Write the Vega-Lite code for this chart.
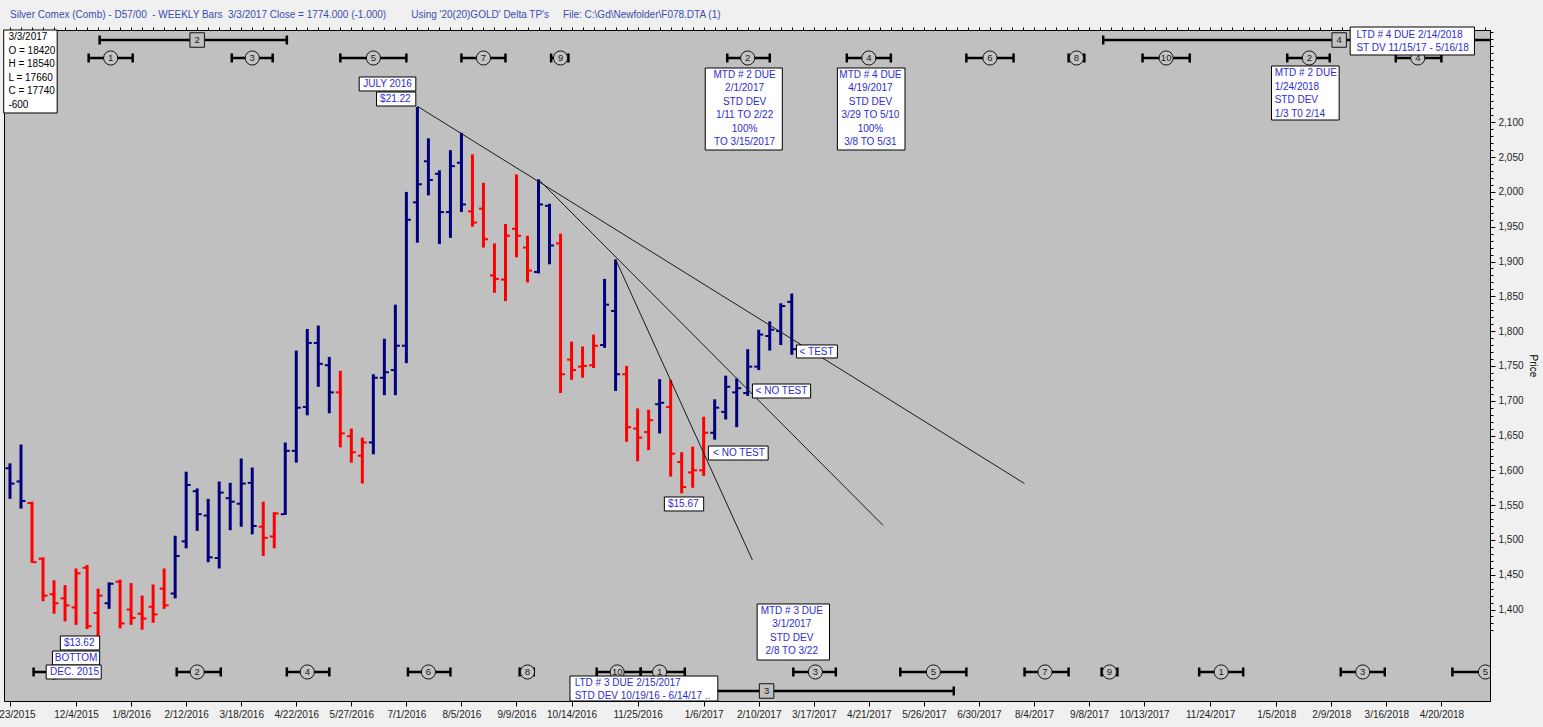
{
"$schema": "https://vega.github.io/schema/vega-lite/v6.json",
"width": 1486,
"height": 671,
"autosize": {"type": "none"},
"padding": {"left": 4, "top": 30, "right": 53, "bottom": 26},
"background": "#f0f0f0",
"title": {"text": "Silver Comex (Comb) - D57/00 \u00a0- WEEKLY Bars \u00a03/3/2017 Close = 1774.000 (-1.000)\u00a0\u00a0\u00a0\u00a0\u00a0\u00a0\u00a0\u00a0\u00a0Using '20(20)GOLD' Delta TP's\u00a0\u00a0\u00a0\u00a0\u00a0File: C:\\Gd\\Newfolder\\F078.DTA (1)", "anchor": "start", "frame": "group", "offset": -3, "dx": 6, "fontSize": 10, "fontWeight": "normal", "color": "#3a4cb0", "baseline": "bottom"},
"config": {"font": "Liberation Sans", "view": {"fill": "#c0c0c0", "stroke": "#000000", "strokeWidth": 1}},
"resolve": {"axis": {"x": "independent", "y": "independent"}},
"datasets": {
"bars": [
{"d":"2015-10-23","o":1603,"h":1610,"l":1559,"c":1581,"t":"b"},
{"d":"2015-10-30","o":1584,"h":1637,"l":1545,"c":1556,"t":"b"},
{"d":"2015-11-06","o":1553,"h":1555,"l":1467,"c":1468,"t":"r"},
{"d":"2015-11-13","o":1473,"h":1475,"l":1412,"c":1420,"t":"r"},
{"d":"2015-11-20","o":1422,"h":1442,"l":1394,"c":1409,"t":"r"},
{"d":"2015-11-27","o":1416,"h":1435,"l":1383,"c":1406,"t":"r"},
{"d":"2015-12-04","o":1403,"h":1459,"l":1378,"c":1452,"t":"r"},
{"d":"2015-12-11","o":1460,"h":1464,"l":1372,"c":1376,"t":"r"},
{"d":"2015-12-18","o":1395,"h":1430,"l":1362,"c":1420,"t":"r"},
{"d":"2015-12-25","o":1409,"h":1439,"l":1401,"c":1437,"t":"b"},
{"d":"2016-01-01","o":1440,"h":1443,"l":1373,"c":1380,"t":"r"},
{"d":"2016-01-08","o":1400,"h":1438,"l":1378,"c":1388,"t":"r"},
{"d":"2016-01-15","o":1394,"h":1420,"l":1371,"c":1387,"t":"r"},
{"d":"2016-01-22","o":1404,"h":1436,"l":1381,"c":1393,"t":"r"},
{"d":"2016-01-29","o":1430,"h":1459,"l":1401,"c":1406,"t":"r"},
{"d":"2016-02-05","o":1423,"h":1506,"l":1416,"c":1477,"t":"b"},
{"d":"2016-02-12","o":1498,"h":1598,"l":1488,"c":1579,"t":"b"},
{"d":"2016-02-19","o":1570,"h":1574,"l":1513,"c":1537,"t":"b"},
{"d":"2016-02-26","o":1535,"h":1559,"l":1468,"c":1475,"t":"b"},
{"d":"2016-03-04","o":1474,"h":1584,"l":1459,"c":1568,"t":"b"},
{"d":"2016-03-11","o":1560,"h":1582,"l":1514,"c":1555,"t":"b"},
{"d":"2016-03-18","o":1552,"h":1617,"l":1519,"c":1581,"t":"b"},
{"d":"2016-03-25","o":1582,"h":1604,"l":1508,"c":1520,"t":"b"},
{"d":"2016-04-01","o":1519,"h":1555,"l":1477,"c":1503,"t":"r"},
{"d":"2016-04-08","o":1505,"h":1540,"l":1488,"c":1538,"t":"r"},
{"d":"2016-04-15","o":1537,"h":1640,"l":1536,"c":1628,"t":"b"},
{"d":"2016-04-22","o":1628,"h":1772,"l":1611,"c":1690,"t":"b"},
{"d":"2016-04-29","o":1691,"h":1803,"l":1679,"c":1783,"t":"b"},
{"d":"2016-05-06","o":1783,"h":1808,"l":1720,"c":1753,"t":"b"},
{"d":"2016-05-13","o":1751,"h":1763,"l":1682,"c":1712,"t":"b"},
{"d":"2016-05-20","o":1712,"h":1743,"l":1633,"c":1653,"t":"r"},
{"d":"2016-05-27","o":1649,"h":1660,"l":1611,"c":1626,"t":"r"},
{"d":"2016-06-03","o":1621,"h":1647,"l":1581,"c":1640,"t":"r"},
{"d":"2016-06-10","o":1640,"h":1738,"l":1623,"c":1733,"t":"b"},
{"d":"2016-06-17","o":1733,"h":1789,"l":1708,"c":1741,"t":"b"},
{"d":"2016-06-24","o":1744,"h":1838,"l":1708,"c":1779,"t":"b"},
{"d":"2016-07-01","o":1779,"h":2000,"l":1754,"c":1960,"t":"b"},
{"d":"2016-07-08","o":1985,"h":2122,"l":1927,"c":2011,"t":"b"},
{"d":"2016-07-15","o":2044,"h":2077,"l":1995,"c":2017,"t":"b"},
{"d":"2016-07-22","o":2026,"h":2031,"l":1925,"c":1971,"t":"b"},
{"d":"2016-07-29","o":1971,"h":2060,"l":1934,"c":2037,"t":"b"},
{"d":"2016-08-05","o":2042,"h":2085,"l":1971,"c":1982,"t":"b"},
{"d":"2016-08-12","o":1972,"h":2054,"l":1950,"c":1956,"t":"r"},
{"d":"2016-08-19","o":1976,"h":2013,"l":1920,"c":1932,"t":"r"},
{"d":"2016-08-26","o":1880,"h":1926,"l":1855,"c":1875,"t":"r"},
{"d":"2016-09-02","o":1874,"h":1954,"l":1843,"c":1937,"t":"r"},
{"d":"2016-09-09","o":1947,"h":2025,"l":1906,"c":1937,"t":"r"},
{"d":"2016-09-16","o":1920,"h":1937,"l":1870,"c":1887,"t":"r"},
{"d":"2016-09-23","o":1885,"h":2018,"l":1883,"c":1982,"t":"b"},
{"d":"2016-09-30","o":1980,"h":1983,"l":1896,"c":1923,"t":"b"},
{"d":"2016-10-07","o":1926,"h":1940,"l":1711,"c":1738,"t":"r"},
{"d":"2016-10-14","o":1759,"h":1785,"l":1730,"c":1744,"t":"r"},
{"d":"2016-10-21","o":1749,"h":1778,"l":1733,"c":1750,"t":"r"},
{"d":"2016-10-28","o":1751,"h":1795,"l":1747,"c":1779,"t":"r"},
{"d":"2016-11-04","o":1780,"h":1875,"l":1776,"c":1838,"t":"b"},
{"d":"2016-11-11","o":1829,"h":1903,"l":1714,"c":1738,"t":"b"},
{"d":"2016-11-18","o":1738,"h":1750,"l":1641,"c":1662,"t":"r"},
{"d":"2016-11-25","o":1660,"h":1689,"l":1613,"c":1647,"t":"r"},
{"d":"2016-12-02","o":1655,"h":1687,"l":1629,"c":1672,"t":"r"},
{"d":"2016-12-09","o":1695,"h":1731,"l":1653,"c":1697,"t":"b"},
{"d":"2016-12-16","o":1691,"h":1730,"l":1591,"c":1624,"t":"r"},
{"d":"2016-12-23","o":1612,"h":1626,"l":1567,"c":1576,"t":"r"},
{"d":"2016-12-30","o":1597,"h":1634,"l":1575,"c":1600,"t":"r"},
{"d":"2017-01-06","o":1600,"h":1677,"l":1592,"c":1654,"t":"r"},
{"d":"2017-01-13","o":1654,"h":1702,"l":1644,"c":1690,"t":"b"},
{"d":"2017-01-20","o":1684,"h":1736,"l":1673,"c":1720,"t":"b"},
{"d":"2017-01-27","o":1712,"h":1732,"l":1662,"c":1718,"t":"b"},
{"d":"2017-02-03","o":1711,"h":1774,"l":1707,"c":1749,"t":"b"},
{"d":"2017-02-10","o":1749,"h":1802,"l":1744,"c":1795,"t":"b"},
{"d":"2017-02-17","o":1793,"h":1814,"l":1772,"c":1802,"t":"b"},
{"d":"2017-02-24","o":1800,"h":1840,"l":1780,"c":1836,"t":"b"},
{"d":"2017-03-03","o":1842,"h":1854,"l":1766,"c":1774,"t":"b"}
],
"trend": [
{"s":"2016-07-08","e":"2017-07-29","p1":2123,"p2":1581},
{"s":"2016-09-23","e":"2017-04-30","p1":2018,"p2":1521},
{"s":"2016-11-11","e":"2017-02-06","p1":1903,"p2":1471}
],
"cyc": [
{"k":"c","n":"1","s":"2015-12-12","e":"2016-01-09","c":"2015-12-26","p":2192.4},
{"k":"c","n":"3","s":"2016-03-12","e":"2016-04-07","c":"2016-03-25","p":2192.4},
{"k":"c","n":"5","s":"2016-05-20","e":"2016-07-01","c":"2016-06-10","p":2192.4},
{"k":"c","n":"7","s":"2016-08-05","e":"2016-09-02","c":"2016-08-19","p":2192.4},
{"k":"c","n":"9","s":"2016-10-01","e":"2016-10-12","c":"2016-10-07","p":2192.4},
{"k":"c","n":"2","s":"2017-01-21","e":"2017-02-17","c":"2017-02-03","p":2192.4},
{"k":"c","n":"4","s":"2017-04-07","e":"2017-05-05","c":"2017-04-21","p":2192.4},
{"k":"c","n":"6","s":"2017-06-22","e":"2017-07-22","c":"2017-07-07","p":2192.4},
{"k":"c","n":"8","s":"2017-08-26","e":"2017-09-05","c":"2017-08-31","p":2192.4},
{"k":"c","n":"10","s":"2017-10-12","e":"2017-11-11","c":"2017-10-27","p":2192.4},
{"k":"c","n":"2","s":"2018-01-12","e":"2018-02-08","c":"2018-01-26","p":2192.4},
{"k":"c","n":"4","s":"2018-03-22","e":"2018-04-20","c":"2018-04-05","p":2192.4},
{"k":"c","n":"","s":"2015-11-07","e":"2015-12-05","c":"2015-11-20","p":1310.3},
{"k":"c","n":"2","s":"2016-02-06","e":"2016-03-05","c":"2016-02-19","p":1310.3},
{"k":"c","n":"4","s":"2016-04-16","e":"2016-05-13","c":"2016-04-29","p":1310.3},
{"k":"c","n":"6","s":"2016-07-02","e":"2016-07-29","c":"2016-07-15","p":1310.3},
{"k":"c","n":"8","s":"2016-09-11","e":"2016-09-20","c":"2016-09-16","p":1310.3},
{"k":"c","n":"10","s":"2016-10-30","e":"2016-11-27","c":"2016-11-12","p":1310.3},
{"k":"c","n":"1","s":"2016-11-27","e":"2016-12-25","c":"2016-12-09","p":1310.3},
{"k":"c","n":"3","s":"2017-03-04","e":"2017-03-31","c":"2017-03-18","p":1310.3},
{"k":"c","n":"5","s":"2017-05-11","e":"2017-06-22","c":"2017-06-01","p":1310.3},
{"k":"c","n":"7","s":"2017-07-29","e":"2017-08-26","c":"2017-08-11","p":1310.3},
{"k":"c","n":"9","s":"2017-09-16","e":"2017-09-26","c":"2017-09-21","p":1310.3},
{"k":"c","n":"1","s":"2017-11-17","e":"2017-12-15","c":"2017-12-01","p":1310.3},
{"k":"c","n":"3","s":"2018-02-15","e":"2018-03-15","c":"2018-03-01","p":1310.3},
{"k":"c","n":"5","s":"2018-04-27","e":"2018-06-08","c":"2018-05-18","p":1310.3},
{"k":"L","n":"2","s":"2015-12-19","e":"2016-04-16","c":"2016-02-19","p":2218.2},
{"k":"L","n":"4","s":"2017-09-17","e":"2018-07-01","c":"2018-02-14","p":2218.2},
{"k":"L","n":"3","s":"2016-10-19","e":"2017-06-14","c":"2017-02-15","p":1283.0}
],
"boxes": [
{"x1":"2015-10-19","x2":"2015-11-22","y1":2232.6,"y2":2113.4},
{"x1":"2016-06-01","x2":"2016-07-07","y1":2165.1,"y2":2145.0},
{"x1":"2016-06-12","x2":"2016-07-07","y1":2143.5,"y2":2123.4},
{"x1":"2017-01-07","x2":"2017-02-25","y1":2178.0,"y2":2060.2},
{"x1":"2017-04-01","x2":"2017-05-14","y1":2178.0,"y2":2060.2},
{"x1":"2018-01-02","x2":"2018-02-14","y1":2180.9,"y2":2103.3},
{"x1":"2018-02-21","x2":"2018-05-11","y1":2236.9,"y2":2196.7},
{"x1":"2017-03-06","x2":"2017-04-01","y1":1780.1,"y2":1761.4},
{"x1":"2017-02-06","x2":"2017-03-15","y1":1724.0,"y2":1703.9},
{"x1":"2017-01-09","x2":"2017-02-16","y1":1634.9,"y2":1614.8},
{"x1":"2016-12-12","x2":"2017-01-06","y1":1561.7,"y2":1541.6},
{"x1":"2015-11-24","x2":"2015-12-19","y1":1362.0,"y2":1341.9},
{"x1":"2015-11-19","x2":"2015-12-19","y1":1340.4,"y2":1320.3},
{"x1":"2015-11-15","x2":"2015-12-20","y1":1320.3,"y2":1300.2},
{"x1":"2017-02-09","x2":"2017-03-27","y1":1408.0,"y2":1327.5},
{"x1":"2016-10-13","x2":"2017-01-15","y1":1304.5,"y2":1268.6}
],
"ctext": [
{"d":"2016-06-19","p":2155.0,"t":"JULY 2016"},
{"d":"2016-06-24","p":2133.5,"t":"$21.22"},
{"d":"2016-12-24","p":1551.6,"t":"$15.67"},
{"d":"2015-12-06","p":1352.0,"t":"$13.62"},
{"d":"2015-12-04","p":1330.4,"t":"BOTTOM"},
{"d":"2015-12-03","p":1310.3,"t":"DEC. 2015"},
{"d":"2017-02-01","p":2168.0,"t":"MTD # 2 DUE\n2/1/2017\nSTD DEV\n1/11 TO 2/22\n100%\nTO 3/15/2017"},
{"d":"2017-04-22","p":2168.0,"t":"MTD # 4 DUE\n4/19/2017\nSTD DEV\n3/29 TO 5/10\n100%\n3/8 TO 5/31"},
{"d":"2017-03-03","p":1397.9,"t":"MTD # 3 DUE\n3/1/2017\nSTD DEV\n2/8 TO 3/22"}
],
"ltext": [
{"d":"2018-01-04","p":2170.8,"t":"MTD # 2 DUE\n1/24/2018\nSTD DEV\n1/3 T0 2/14"},
{"d":"2018-02-25","p":2225.5,"t":"LTD # 4 DUE 2/14/2018\nST DV 11/15/17 - 5/16/18"},
{"d":"2016-10-16","p":1294.5,"t":"LTD # 3 DUE 2/15/2017\nSTD DEV 10/19/16 - 6/14/17 .."},
{"d":"2017-03-08","p":1770.7,"t":"< TEST"},
{"d":"2017-02-08","p":1714.0,"t":"< NO TEST"},
{"d":"2017-01-12","p":1624.9,"t":"< NO TEST"}
],
"info": [
{"d":"2015-10-22","p":2222.5,"t":"3/3/2017\nO = 18420\nH = 18540\nL = 17660\nC = 17740\n\u00a0\u00a0-600"}
]
},
"layer": [
{
"mark": {"type": "rule", "color": "#888888", "strokeWidth": 3},
"encoding": {
"x": {"datum": {"year": 2017, "month": 3, "date": 3, "utc": true}, "type": "temporal",
"scale": {"type": "utc", "nice": false, "domain": [{"year": 2015, "month": 10, "date": 19, "hours": 4, "minutes": 33, "utc": true}, {"year": 2018, "month": 5, "date": 20, "hours": 21, "minutes": 36, "utc": true}]},
"axis": {"title": null, "values": {"expr": "[utc(2015,9,23),utc(2015,11,4),utc(2016,0,8),utc(2016,1,12),utc(2016,2,18),utc(2016,3,22),utc(2016,4,27),utc(2016,6,1),utc(2016,7,5),utc(2016,8,9),utc(2016,9,14),utc(2016,10,25),utc(2017,0,6),utc(2017,1,10),utc(2017,2,17),utc(2017,3,21),utc(2017,4,26),utc(2017,5,30),utc(2017,7,4),utc(2017,8,8),utc(2017,9,13),utc(2017,10,24),utc(2018,0,5),utc(2018,1,9),utc(2018,2,16),utc(2018,3,20)]"}, "labelExpr": "utcFormat(datum.value, '%-m/%-d/%Y')", "tickSize": 5, "labelFontSize": 10, "labelColor": "#1e1e1e", "tickColor": "#000000", "domainColor": "#000000", "labelPadding": 3, "labelOverlap": false, "labelFlush": false, "labelBound": false, "grid": false}}
}
},
{
"data": {"name": "bars", "format": {"parse": {"d": "date"}}},
"mark": {"type": "rule", "strokeWidth": 3},
"encoding": {
"x": {"field": "d", "type": "temporal", "axis": {"title": null, "values": {"expr": "sequence(utc(2015,9,23), utc(2018,4,26), 604800000)"}, "labels": false, "tickSize": 3, "tickColor": "#000000", "domain": false, "grid": false}},
"y": {"field": "l", "type": "quantitative",
"scale": {"domain": [1268.6, 2232.6], "nice": false, "zero": false},
"axis": {"orient": "right", "title": "Price", "values": {"expr": "sequence(1400, 2101, 50)"}, "format": ",d", "tickSize": 5, "labelFontSize": 10, "labelColor": "#1e1e1e", "titleFontSize": 10, "titleFontWeight": "normal", "titleColor": "#000000", "titlePadding": 4, "tickColor": "#000000", "domainColor": "#000000", "labelPadding": 3, "labelOverlap": false, "labelBound": false, "labelFlush": false, "grid": false}},
"y2": {"field": "h"},
"color": {"field": "t", "type": "nominal", "scale": {"domain": ["b", "r"], "range": ["#00007f", "#ff0000"]}, "legend": null}
}
},
{
"data": {"name": "bars", "format": {"parse": {"d": "date"}}},
"mark": {"type": "tick", "orient": "horizontal", "size": 4, "thickness": 2, "xOffset": -2.5, "opacity": 1},
"encoding": {
"x": {"field": "d", "type": "temporal", "axis": null},
"y": {"field": "o", "type": "quantitative", "axis": {"orient": "right", "title": null, "values": {"expr": "sequence(1370, 2240, 10)"}, "labels": false, "tickSize": 3, "tickColor": "#000000", "domain": false, "grid": false}},
"color": {"field": "t", "type": "nominal", "legend": null}
}
},
{
"data": {"name": "bars", "format": {"parse": {"d": "date"}}},
"mark": {"type": "tick", "orient": "horizontal", "size": 4, "thickness": 2, "xOffset": 2.5, "opacity": 1},
"encoding": {
"x": {"field": "d", "type": "temporal", "axis": null},
"y": {"field": "c", "type": "quantitative", "axis": null},
"color": {"field": "t", "type": "nominal", "legend": null}
}
},
{
"data": {"name": "trend", "format": {"parse": {"s": "date", "e": "date"}}},
"mark": {"type": "rule", "color": "#1a1a1a", "strokeWidth": 1},
"encoding": {
"x": {"field": "s", "type": "temporal", "axis": null},
"x2": {"field": "e"},
"y": {"field": "p1", "type": "quantitative", "axis": null},
"y2": {"field": "p2"}
}
},
{
"data": {"name": "cyc", "format": {"parse": {"s": "date", "e": "date", "c": "date"}}},
"mark": {"type": "rule", "color": "#000000", "strokeWidth": 2.5, "clip": true},
"encoding": {
"x": {"field": "s", "type": "temporal", "axis": null},
"x2": {"field": "e"},
"y": {"field": "p", "type": "quantitative", "axis": null}
}
},
{
"data": {"name": "cyc", "format": {"parse": {"s": "date", "e": "date", "c": "date"}}},
"transform": [{"fold": ["s", "e"], "as": ["side", "v"]}],
"mark": {"type": "tick", "orient": "vertical", "size": 9, "thickness": 2.5, "color": "#000000", "opacity": 1, "clip": true},
"encoding": {
"x": {"field": "v", "type": "temporal", "axis": null},
"y": {"field": "p", "type": "quantitative", "axis": null}
}
},
{
"data": {"name": "cyc", "format": {"parse": {"s": "date", "e": "date", "c": "date"}}},
"transform": [{"filter": "datum.k == 'c'"}],
"mark": {"type": "point", "shape": "circle", "size": 200, "filled": true, "fill": "#c4c4c4", "stroke": "#111111", "strokeWidth": 1, "opacity": 1, "clip": true},
"encoding": {
"x": {"field": "c", "type": "temporal", "axis": null},
"y": {"field": "p", "type": "quantitative", "axis": null}
}
},
{
"data": {"name": "cyc", "format": {"parse": {"s": "date", "e": "date", "c": "date"}}},
"transform": [{"filter": "datum.k == 'L'"}],
"mark": {"type": "point", "shape": "square", "size": 210, "filled": true, "fill": "#c0c0c0", "stroke": "#111111", "strokeWidth": 1, "opacity": 1, "clip": true},
"encoding": {
"x": {"field": "c", "type": "temporal", "axis": null},
"y": {"field": "p", "type": "quantitative", "axis": null}
}
},
{
"data": {"name": "cyc", "format": {"parse": {"s": "date", "e": "date", "c": "date"}}},
"mark": {"type": "text", "fontSize": 9.5, "color": "#1a1a1a", "align": "center", "baseline": "middle", "clip": true},
"encoding": {
"x": {"field": "c", "type": "temporal", "axis": null},
"y": {"field": "p", "type": "quantitative", "axis": null},
"text": {"field": "n"}
}
},
{
"data": {"name": "boxes", "format": {"parse": {"x1": "date", "x2": "date"}}},
"mark": {"type": "rect", "fill": "#ffffff", "stroke": "#000000", "strokeWidth": 1},
"encoding": {
"x": {"field": "x1", "type": "temporal", "axis": null},
"x2": {"field": "x2"},
"y": {"field": "y1", "type": "quantitative", "axis": null},
"y2": {"field": "y2"}
}
},
{
"data": {"name": "ctext", "format": {"parse": {"d": "date"}}},
"mark": {"type": "text", "align": "center", "baseline": "middle", "fontSize": 10, "color": "#2c2cd0", "lineBreak": "\n", "lineHeight": 13.5},
"encoding": {
"x": {"field": "d", "type": "temporal", "axis": null},
"y": {"field": "p", "type": "quantitative", "axis": null},
"text": {"field": "t"}
}
},
{
"data": {"name": "ltext", "format": {"parse": {"d": "date"}}},
"mark": {"type": "text", "align": "left", "baseline": "middle", "fontSize": 10, "color": "#2c2cd0", "lineBreak": "\n", "lineHeight": 13.5},
"encoding": {
"x": {"field": "d", "type": "temporal", "axis": null},
"y": {"field": "p", "type": "quantitative", "axis": null},
"text": {"field": "t"}
}
},
{
"data": {"name": "info", "format": {"parse": {"d": "date"}}},
"mark": {"type": "text", "align": "left", "baseline": "middle", "fontSize": 10, "color": "#000000", "lineBreak": "\n", "lineHeight": 13.5},
"encoding": {
"x": {"field": "d", "type": "temporal", "axis": null},
"y": {"field": "p", "type": "quantitative", "axis": null},
"text": {"field": "t"}
}
}
]
}
